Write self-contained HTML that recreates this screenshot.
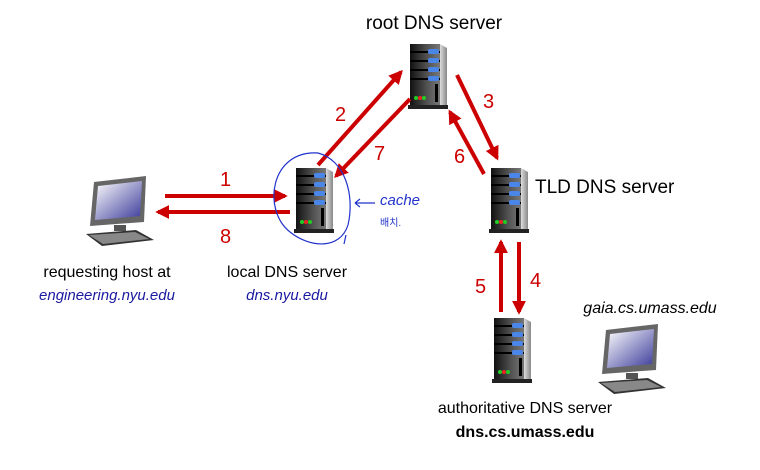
<!DOCTYPE html>
<html><head><meta charset="utf-8"><style>
html,body{margin:0;padding:0;background:#fff;}
svg{display:block;}
text{font-family:"Liberation Sans",Arial,sans-serif;}
</style></head><body>
<svg width="760" height="470" viewBox="0 0 760 470" xmlns="http://www.w3.org/2000/svg">
<defs>
<linearGradient id="bg" x1="0" x2="1" y1="0" y2="0">
<stop offset="0" stop-color="#111"/><stop offset="0.6" stop-color="#555"/><stop offset="1" stop-color="#777"/></linearGradient>
<linearGradient id="side" x1="0" x2="1"><stop offset="0" stop-color="#ddd"/><stop offset="1" stop-color="#888"/></linearGradient>
<linearGradient id="scr" x1="0" y1="0" x2="1" y2="1"><stop offset="0" stop-color="#fff"/><stop offset="1" stop-color="#3a3a9a"/></linearGradient>
<marker id="ah" viewBox="0 0 10 10" refX="8" refY="5" markerWidth="3.5" markerHeight="3.5" orient="auto"><path d="M0,0 L10,5 L0,10 z" fill="#c00"/></marker>
<g id="srv">
<rect x="0" y="0" width="30" height="62" fill="url(#bg)"/>
<polygon points="30,0 37,4 37,64 30,62" fill="url(#side)"/>
<rect x="0" y="7" width="30" height="2" fill="#000"/>
<rect x="0" y="16" width="30" height="2" fill="#000"/>
<rect x="0" y="25" width="30" height="2" fill="#000"/>
<rect x="0" y="34" width="30" height="2" fill="#000"/>
<rect x="18" y="5" width="11" height="5" rx="2" fill="#4a86e8"/>
<rect x="18" y="14" width="11" height="5" rx="2" fill="#4a86e8"/>
<rect x="18" y="23" width="11" height="5" rx="2" fill="#4a86e8"/>
<rect x="18" y="32" width="11" height="5" rx="2" fill="#4a86e8"/>
<rect x="25" y="40" width="3" height="18" fill="#000"/>
<circle cx="6" cy="54" r="2" fill="#2c2"/><circle cx="10" cy="54" r="2" fill="#e22"/><circle cx="14" cy="54" r="2" fill="#2c2"/>
<rect x="-2" y="61" width="40" height="4" fill="#222"/>
</g>
<g id="pc">
<polygon points="8,0 60,-6 58,40 4,44" fill="#666"/>
<polygon points="12,4 56,-1 54,34 9,38" fill="url(#scr)"/>
<rect x="28" y="43" width="12" height="6" fill="#555"/>
<polygon points="0,52 50,48 68,58 16,64" fill="#333"/>
<polygon points="3,53 49,50 63,57 17,62" fill="#888"/>
</g>
</defs>

<text x="434" y="29" font-size="19" text-anchor="middle" fill="#000">root DNS server</text>
<text x="535" y="193" font-size="19" fill="#000">TLD DNS server</text>
<text x="107" y="277" font-size="16" text-anchor="middle">requesting host at</text>
<text x="107" y="300" font-size="15" text-anchor="middle" font-style="italic" fill="#1a1aa0">engineering.nyu.edu</text>
<text x="287" y="277" font-size="16" text-anchor="middle">local DNS server</text>
<text x="287" y="300" font-size="15" text-anchor="middle" font-style="italic" fill="#1a1aa0">dns.nyu.edu</text>
<text x="650" y="313" font-size="16" text-anchor="middle" font-style="italic">gaia.cs.umass.edu</text>
<text x="525" y="413" font-size="16" text-anchor="middle">authoritative DNS server</text>
<text x="525" y="437" font-size="16" text-anchor="middle" font-weight="bold">dns.cs.umass.edu</text>

<use href="#srv" x="410" y="44"/>
<use href="#srv" x="296" y="168"/>
<use href="#srv" x="491" y="168"/>
<use href="#srv" x="494" y="318"/>
<use href="#pc" x="86" y="182"/>
<use href="#pc" x="598" y="330"/>

<g stroke="#c00" stroke-width="4" fill="none" marker-end="url(#ah)">
<line x1="165" y1="196" x2="285" y2="196"/>
<line x1="290" y1="212" x2="158" y2="212"/>
<line x1="318" y1="165" x2="401" y2="72"/>
<line x1="410" y1="99" x2="336" y2="176"/>
<line x1="457" y1="75" x2="497" y2="158"/>
<line x1="484" y1="174" x2="450" y2="112"/>
<line x1="501" y1="312" x2="501" y2="242"/>
<line x1="519" y1="242" x2="519" y2="312"/>
</g>
<g fill="#c00" font-size="20">
<text x="220" y="186">1</text>
<text x="220" y="243">8</text>
<text x="335" y="121">2</text>
<text x="374" y="160">7</text>
<text x="483" y="108">3</text>
<text x="454" y="163">6</text>
<text x="475" y="293">5</text>
<text x="530" y="287">4</text>
</g>
<g stroke="#2233cc" stroke-width="1.2" fill="none">
<path d="M318,153 C270,150 262,210 290,232 C310,248 340,250 348,225 C355,195 345,160 318,153 Z"/>
<path d="M346,235 L344,244"/>
<path d="M355,203 L375,203 M355,203 l5,-4 M355,203 l5,4"/>
</g>
<text x="380" y="205" font-size="15" font-style="italic" fill="#2233cc">cache</text>
<text x="380" y="226" font-size="10" fill="#2233cc" font-family="'Liberation Sans','NanumGothic',sans-serif">배치.</text>
</svg>
</body></html>
